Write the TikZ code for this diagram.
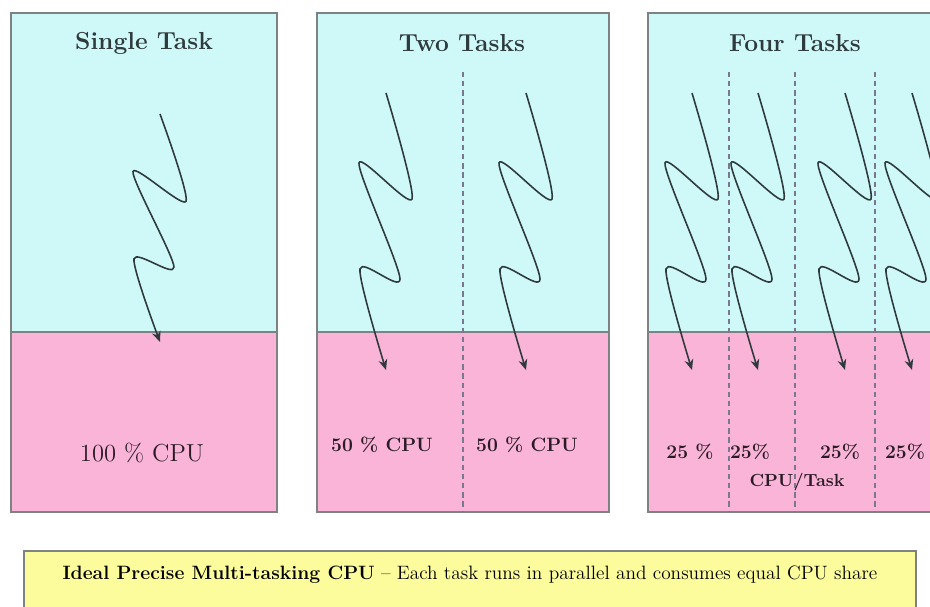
\documentclass[tikz,border=0pt]{standalone}
\usetikzlibrary{arrows.meta}
\definecolor{taskblue}{HTML}{CFF8F8}
\definecolor{cpupink}{HTML}{F9B4D8}
\definecolor{noteyellow}{HTML}{FCFC9C}
\definecolor{framegray}{HTML}{7F8282}
\definecolor{inkdark}{HTML}{2E3A3C}
\definecolor{splitgray}{HTML}{7A7890}
\definecolor{sharetext}{HTML}{2B1B26}
\begin{document}
\begin{tikzpicture}[x=0.02cm,y=-0.02cm,
  panel/.style={draw=framegray,line width=0.9pt},
  split/.style={draw=splitgray,dash pattern=on 3pt off 2.2pt,line width=0.6pt},
  title/.style={font=\fontsize{14}{16}\selectfont\bfseries,text=inkdark},
  share/.style={font=\fontsize{11}{13}\selectfont\bfseries,text=sharetext},
  task/.pic={\draw[inkdark,line width=0.9pt,-{Stealth[length=6pt,width=5pt]}] plot[smooth,tension=0.45] coordinates {(0,0) (26,106) (-27,70) (14,186) (-26,176) (0,277)};}]
\useasboundingbox (0,0) rectangle (930,607);
\clip (0,0) rectangle (930,607);
\fill[white] (0,0) rectangle (930,607);
\foreach \l/\r in {11/277,317/609,648/960}{
  \fill[taskblue] (\l,13) rectangle (\r,332);
  \fill[cpupink] (\l,332) rectangle (\r,512);
  \draw[panel] (\l,13) rectangle (\r,512);
  \draw[panel] (\l,332) -- (\r,332);
}
\foreach \x in {463,729,795,875}
  \draw[split] (\x,72) -- (\x,512);
\node[title] (single) at (144,43) {Single Task};
\node[title] (two) at (462,43) {Two Tasks};
\node[title] (four) at (795,43) {Four Tasks};
\pic[yscale=0.823] at (160,114) {task};
\foreach \x in {386,526,692,758,845,912}
  \pic at (\x,93) {task};
\node[font=\fontsize{14}{16}\selectfont,text=sharetext] (full) at (142,453) {100 \% CPU};
\node[share] (halfa) at (382,445) {50 \% CPU};
\node[share] (halfb) at (527,445) {50 \% CPU};
\node[share] (quarta) at (690,452) {25 \%};
\node[share] (quartb) at (750,452) {25\%};
\node[share] (quartc) at (840,452) {25\%};
\node[share] (quartd) at (905,452) {25\%};
\node[share,font=\fontsize{10}{12}\selectfont\bfseries] (pertask) at (797,482) {CPU/Task};
\fill[noteyellow] (24,551) rectangle (916,640);
\draw[panel] (24,551) rectangle (916,640);
\node[font=\fontsize{11}{13}\selectfont,text=black] (note) at (470,575) {\textbf{Ideal Precise Multi-tasking CPU} -- Each task runs in parallel and consumes equal CPU share};
\end{tikzpicture}
\end{document}
